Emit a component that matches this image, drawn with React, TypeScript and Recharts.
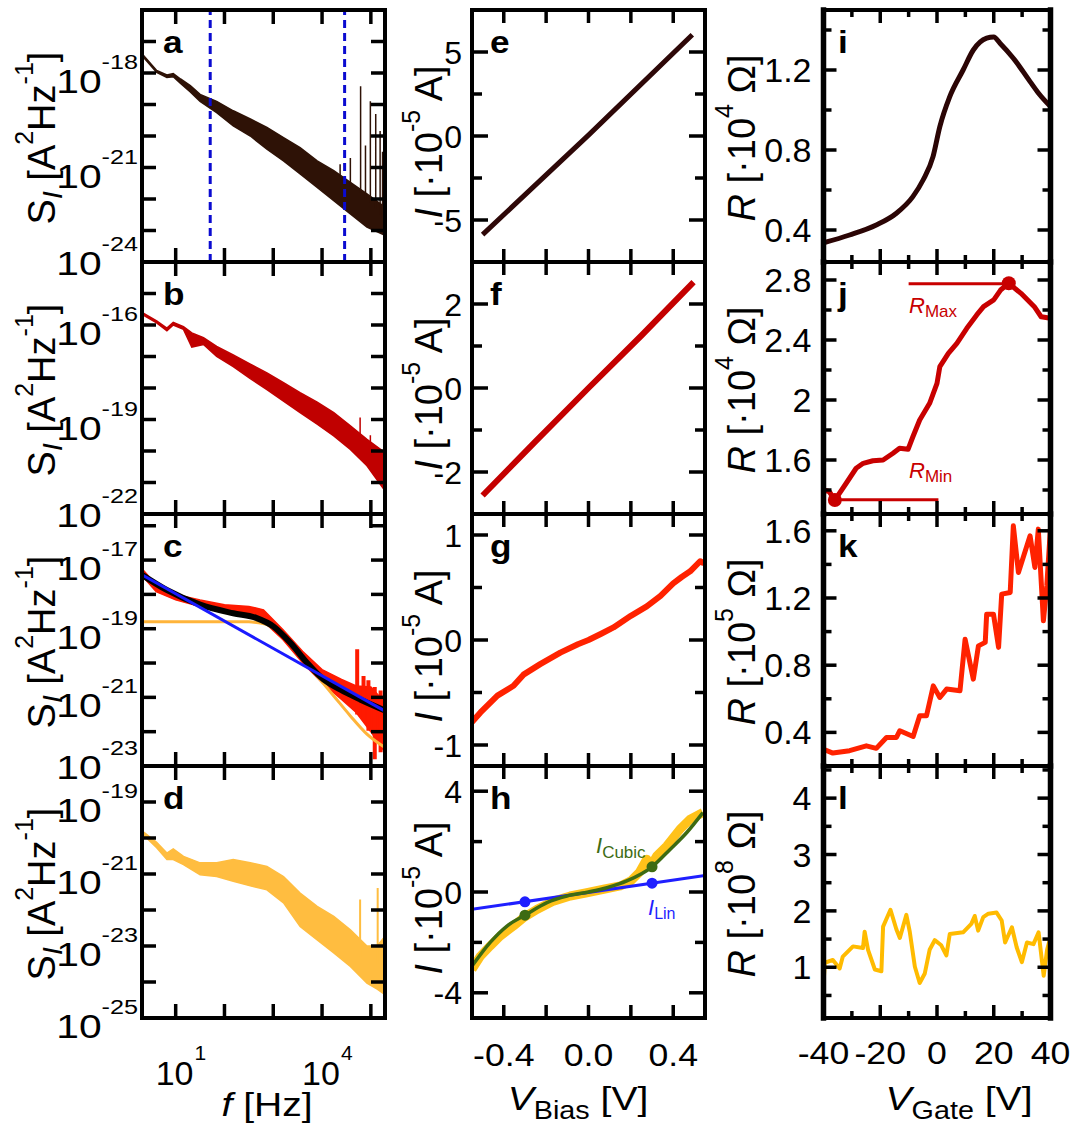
import React from "react";
import { ComposedChart, Line, Area, XAxis, YAxis, ReferenceLine } from "recharts";

const W = 1073;
const H = 1127;
const FONT = '"Liberation Sans", Arial, Helvetica, sans-serif';

// plot boxes (page px)
const COLS: [number, number][] = [[142, 385], [472, 705], [823.5, 1050.5]];
const ROWS: [number, number][] = [[10, 262], [262, 514], [514, 766], [766, 1018]];

// ---- column 1: noise spectra, read as powers of ten off the log axes
const aFreqExp = [0.31, 0.61, 0.82, 0.95, 1.1, 1.3, 1.5, 1.84, 2.18, 2.53, 2.87, 3.21, 3.55, 3.9, 4.24, 4.58, 4.92, 5.29];
const aLowExp = [-17.45, -17.98, -18.14, -18.12, -18.33, -18.6, -18.9, -19.26, -19.68, -20.0, -20.42, -20.79, -21.2, -21.63, -22.05, -22.47, -22.89, -23.15];
const aHighExp = [-17.39, -17.92, -18.06, -18.02, -18.19, -18.4, -18.68, -18.9, -19.2, -19.46, -19.73, -20.05, -20.37, -20.79, -21.1, -21.47, -21.84, -22.26];
const aSpikes = [[4.37, -21.3, -20.9], [4.58, -21.6, -20.7], [4.79, -21.8, -18.42], [4.89, -22.0, -20.3], [4.99, -22.1, -18.9], [5.1, -22.3, -19.3], [5.19, -22.5, -19.84], [5.24, -22.6, -20.5]];
const aMarkersHz = [51, 29000];

const bFreqExp = [0.31, 0.61, 0.82, 0.95, 1.16, 1.33, 1.57, 1.84, 2.18, 2.53, 2.87, 3.21, 3.55, 3.9, 4.24, 4.58, 4.92, 5.29];
const bLowExp = [-15.66, -15.93, -16.18, -16.0, -16.14, -16.7, -16.62, -17.0, -17.32, -17.7, -18.05, -18.42, -18.78, -19.15, -19.52, -19.95, -20.47, -21.26];
const bHighExp = [-15.6, -15.87, -16.1, -15.92, -16.05, -16.25, -16.4, -16.68, -16.95, -17.24, -17.52, -17.83, -18.15, -18.45, -18.78, -19.2, -19.63, -20.05];
const bSpikes = [[4.78, -19.6, -18.94], [4.99, -19.9, -19.5]];

const cFreqExp = [0.31, 0.6, 1.0, 1.5, 2.0, 2.5, 2.8, 3.2, 3.6, 4.0, 4.4, 4.7, 5.0, 5.29];
const cLowExp = [-17.45, -17.92, -18.16, -18.35, -18.5, -18.6, -18.79, -19.32, -19.99, -20.57, -21.06, -21.44, -22.0, -22.6];
const cHighExp = [-17.25, -17.72, -18.0, -18.16, -18.3, -18.35, -18.45, -19.03, -19.66, -20.19, -20.48, -20.67, -20.7, -21.15];
const cSpikes = [[4.72, -21.5, -19.6], [4.85, -21.64, -20.38], [4.95, -21.97, -20.5], [5.08, -22.8, -20.7], [5.2, -22.6, -20.8]];
const cSumFreqExp = [0.31, 0.815, 1.5, 2.18, 2.66, 3.0, 3.35, 3.69, 4.03, 4.37, 4.78, 5.29];
const cSumExp = [-17.43, -17.87, -18.3, -18.55, -18.69, -18.93, -19.41, -19.99, -20.48, -20.77, -21.06, -21.38];
const cPowerLawFreqExp = [0.31, 5.29];
const cPowerLawExp = [-17.43, -21.4];
const cLorentzFreqExp = [0.31, 2.5, 2.7, 2.87, 3.05, 3.21, 3.55, 3.9, 4.24, 4.58, 4.92, 5.29];
const cLorentzExp = [-18.8, -18.8, -18.83, -18.88, -19.02, -19.22, -19.8, -20.38, -20.96, -21.54, -22.07, -22.46];

const dFreqExp = [0.33, 0.61, 0.82, 0.95, 1.16, 1.5, 1.84, 2.18, 2.53, 2.87, 3.21, 3.55, 3.9, 4.24, 4.58, 4.92, 5.13, 5.29];
const dLowExp = [-19.9, -20.27, -20.6, -20.6, -20.74, -21.02, -21.07, -21.2, -21.33, -21.44, -21.8, -22.46, -22.83, -23.19, -23.57, -24.03, -24.2, -24.35];
const dHighExp = [-19.82, -20.12, -20.42, -20.3, -20.51, -20.69, -20.69, -20.6, -20.69, -20.79, -21.07, -21.53, -21.9, -22.18, -22.55, -23.0, -23.0, -22.73];
const dSpikes = [[4.78, -23.3, -21.71], [5.14, -23.5, -21.39]];

// ---- column 2: I-V curves
const eBias = [-0.5, 0, 0.49];
const eCurrent = [-5.87, 0.05, 6.03];
const fBias = [-0.5, -0.25, 0, 0.25, 0.496];
const fCurrent = [-2.56, -1.27, 0.0, 1.25, 2.52];
const gBias = [-0.55, -0.51, -0.43, -0.354, -0.307, -0.228, -0.133, -0.05, 0, 0.06, 0.118, 0.2, 0.275, 0.34, 0.4, 0.44, 0.48, 0.527, 0.545];
const gCurrent = [-0.78, -0.69, -0.53, -0.436, -0.33, -0.23, -0.12, -0.04, 0.0, 0.06, 0.12, 0.23, 0.32, 0.42, 0.54, 0.6, 0.654, 0.75, 0.73];
const hBias = [-0.55, -0.51, -0.464, -0.417, -0.354, -0.307, -0.243, -0.165, -0.086, -0.008, 0.071, 0.15, 0.2, 0.24, 0.275, 0.3, 0.322, 0.37, 0.432, 0.48, 0.54];
const hCurrent = [-3.07, -2.54, -2.14, -1.75, -1.35, -1.02, -0.69, -0.36, -0.16, -0.03, 0.11, 0.24, 0.44, 0.78, 1.3, 1.1, 1.43, 1.83, 2.49, 2.89, 3.15];
const hCubicBias = [-0.55, -0.464, -0.385, -0.3, -0.196, -0.102, 0, 0.087, 0.181, 0.3, 0.385, 0.464, 0.54];
const hCubicCurrent = [-2.94, -2.0, -1.35, -0.92, -0.42, -0.16, 0, 0.17, 0.44, 1.0, 1.69, 2.36, 3.15];
const hLinBias = [-0.55, 0.55];
const hLinCurrent = [-0.69, 0.66];
const hMarkBias = [-0.3, 0.3];
const hLinMarkCurrent = [-0.39, 0.35];
const hCubicMarkCurrent = [-0.92, 1.0];

// ---- column 3: R vs gate voltage
const iGate = [-40, -30.8, -21.4, -14.3, -8.5, -4.9, -1.4, 1, 4.5, 9.2, 12.8, 17.5, 20, 22.2, 26.9, 32.8, 36, 40];
const iRes = [0.336, 0.375, 0.425, 0.484, 0.567, 0.65, 0.767, 0.917, 1.067, 1.2, 1.3, 1.359, 1.365, 1.334, 1.259, 1.142, 1.08, 1.017];
const jGate = [-40, -38, -36, -32, -28.5, -26, -22.6, -19, -15.5, -13.2, -10.2, -8.5, -6.1, -2.6, 0, 1, 4, 7, 10.5, 14, 16.4, 20, 22.4, 25.3, 29.6, 34.3, 36.7, 40];
const jRes = [1.4, 1.39, 1.333, 1.445, 1.545, 1.578, 1.595, 1.6, 1.645, 1.678, 1.671, 1.755, 1.867, 1.978, 2.111, 2.222, 2.311, 2.378, 2.478, 2.567, 2.622, 2.667, 2.733, 2.778, 2.711, 2.622, 2.555, 2.545];
const jExtremaGate = [-36, 25.3];
const jExtremaRes = [1.333, 2.778];
const jMaxLineGate = [-10, 25.3];
const jMaxLineRes = [2.775, 2.775];
const jMinLineGate = [-36, 0.5];
const jMinLineRes = [1.335, 1.335];
const kGate = [-40, -36.7, -30.8, -24.9, -21.4, -17.8, -14.3, -13.1, -8.4, -6.1, -3.7, -1.3, 1, 3.4, 8.1, 9.9, 12.8, 14.6, 17, 17.5, 19.9, 21.7, 22.8, 25.8, 26.9, 28.7, 30.4, 32.8, 34.5, 35.7, 37.5, 38.7, 40];
const kRes = [0.3, 0.277, 0.291, 0.32, 0.305, 0.37, 0.37, 0.41, 0.376, 0.499, 0.499, 0.677, 0.608, 0.658, 0.648, 0.955, 0.717, 0.915, 0.936, 1.104, 1.104, 0.906, 1.223, 1.233, 1.63, 1.352, 1.442, 1.57, 1.382, 1.61, 1.064, 1.273, 1.62];
const lGate = [-40, -39.5, -36.7, -34.3, -33.2, -29.6, -26.1, -25.5, -24.3, -21.9, -19.6, -19, -16.4, -14.3, -13.1, -10.8, -9.6, -7.8, -6.1, -4.3, -2.6, -0.8, 1.5, 3.3, 4.5, 9.2, 12.1, 13.3, 14.5, 16.3, 18.1, 21, 22.8, 24, 26.4, 28.1, 29.9, 31.7, 34, 35.8, 37.6, 38.8, 40];
const lRes = [0.72, 1.08, 1.13, 0.98, 1.19, 1.37, 1.34, 1.63, 1.31, 0.96, 0.93, 1.72, 2.02, 1.67, 1.52, 1.93, 1.63, 1.01, 0.72, 0.89, 1.31, 1.48, 1.39, 1.21, 1.59, 1.62, 1.77, 1.91, 1.65, 1.89, 1.95, 1.97, 1.83, 1.44, 1.71, 1.35, 1.09, 1.44, 1.41, 1.62, 0.85, 1.31, 1.54];

const C = {
  a: "#2e1206", b: "#c00000", c: "#ff1a00", d: "#ffbd40",
  e: "#2e0808", f: "#c40000", g: "#ff2200", h: "#ffc21a", cubic: "#3d6b12", lin: "#1f1fff",
  i: "#2b0505", j: "#c80000", k: "#ff2200", l: "#ffbb00",
  blue: "#1a1aff", orange: "#ffb43a", marker: "#0b0bd0",
};

// tables for the library
const pts = (xs: number[], ys: number[]) => xs.map((x, i) => ({ x, y: ys[i] }));
const logPts = (xs: number[], ys: number[]) => xs.map((x, i) => ({ x: 10 ** x, y: 10 ** ys[i] }));
const band = (xs: number[], lo: number[], hi: number[]) => xs.map((x, i) => ({ x: 10 ** x, r: [10 ** lo[i], 10 ** hi[i]] }));
const spikes = (s: number[][]) =>
  s.flatMap(([f, a, b]) => [{ x: 10 ** f, y: 10 ** a }, { x: 10 ** f, y: 10 ** b }, { x: 10 ** f, y: null as number | null }]);

type Side = "left" | "right" | "top" | "bottom";
type Fmt = (v: number, x: number, y: number) => React.ReactNode;
type AxisCfg = { domain: [number, number]; ticks: number[]; log?: boolean; longs: number[]; labels: number[]; long: number; short: number; fmt: Fmt };

const near = (a: number, b: number) => Math.abs(a - b) <= Math.max(Math.abs(a), Math.abs(b)) * 1e-6;
const has = (arr: number[], v: number) => arr.some((m) => near(m, v));

function TX(props: any) {
  const { x, y, size, anchor = "start", sx = 1, children, ...rest } = props;
  return (
    <text transform={`translate(${x},${y}) scale(${sx},1)`} fontSize={size} textAnchor={anchor} fontFamily={FONT} fill="#000" {...rest}>
      {children}
    </text>
  );
}

// "10" with a raised exponent; labels sitting on a shared panel edge are lifted a little
const logYFmt = (edge: number | null): Fmt => (v, x, y) => {
  const lift = edge !== null && near(v, edge) ? 7 : 0;
  return (
    <TX x={x - 4} y={y + 20 - lift} size={34} anchor="end" sx={1.2}>
      10
      <tspan fontSize={21} dy={-24}>{String(Math.round(Math.log10(v)))}</tspan>
    </TX>
  );
};
const fmtLogX: Fmt = (v, x, y) => (
  <TX x={x - 20} y={y + 67} size={34}>
    10
    <tspan fontSize={21} dx={1} dy={-25}>{String(Math.round(Math.log10(v)))}</tspan>
  </TX>
);
const fmtIY: Fmt = (v, x, y) => <TX x={x - 10} y={y + 11.5} size={32} anchor="end">{String(v)}</TX>;
const fmtBias: Fmt = (v, x, y) => <TX x={x} y={y + 48} size={31} anchor="middle" sx={1.15}>{v.toFixed(1)}</TX>;
const fmtRY: Fmt = (v, x, y) => <TX x={x - 12} y={y + 12} size={34} anchor="end">{String(v)}</TX>;
const fmtGate: Fmt = (v, x, y) => <TX x={x} y={y + 46} size={31} anchor="middle" sx={1.15}>{String(v)}</TX>;

// the axis line sits at the plot edge; ticks point into the plot
function tickFor(side: Side, c: AxisCfg, showLabels: boolean) {
  return (p: any) => {
    const x = Number(p.x);
    const y = Number(p.y);
    const v = Number(p.payload?.value);
    const len = has(c.longs, v) ? c.long : c.short;
    const dx = side === "left" ? len : side === "right" ? -len : 0;
    const dy = side === "top" ? len : side === "bottom" ? -len : 0;
    return (
      <g>
        <line x1={x} y1={y} x2={x + dx} y2={y + dy} stroke="#000" strokeWidth={3.5} />
        {showLabels && has(c.labels, v) ? c.fmt(v, x, y) : null}
      </g>
    );
  };
}

const AX = 1; // axis band size (must be > 0 or the axis is not drawn)

function axes(xc: AxisCfg, yc: AxisCfg, xLabels: boolean, sideWidth = 4) {
  const base = { type: "number" as const, allowDataOverflow: true, tickLine: false, tickSize: 0, tickMargin: 0, interval: 0 as const };
  const line = { stroke: "#000", strokeWidth: 4, strokeLinecap: "square" as const };
  const vline = { ...line, strokeWidth: sideWidth };
  const xs = xc.log ? ("log" as const) : ("linear" as const);
  const ys = yc.log ? ("log" as const) : ("linear" as const);
  return [
    <XAxis key="xb" {...base} dataKey="x" domain={xc.domain} scale={xs} ticks={xc.ticks} height={AX} axisLine={line} tick={tickFor("bottom", xc, xLabels)} />,
    <XAxis key="xt" {...base} xAxisId="top" orientation="top" dataKey="x" domain={xc.domain} scale={xs} ticks={xc.ticks} height={AX} axisLine={line} tick={tickFor("top", xc, false)} />,
    <YAxis key="yl" {...base} domain={yc.domain} scale={ys} ticks={yc.ticks} width={AX} axisLine={vline} tick={tickFor("left", yc, true)} />,
    <YAxis key="yr" {...base} yAxisId="right" orientation="right" domain={yc.domain} scale={ys} ticks={yc.ticks} width={AX} axisLine={vline} tick={tickFor("right", yc, false)} />,
  ];
}

const freqAxis: AxisCfg = { domain: [2.04, 1.95e5], log: true, ticks: [10, 100, 1e3, 1e4, 1e5], longs: [10, 100, 1e3, 1e4, 1e5], labels: [10, 1e4], long: 14, short: 14, fmt: fmtLogX };
const logY = (domain: [number, number], ticks: number[], labels: number[], lifted: boolean): AxisCfg => ({
  domain, log: true, ticks, longs: ticks, labels, long: 14, short: 14, fmt: logYFmt(lifted ? domain[0] : null),
});
const aY = logY([1e-24, 1e-16], [1e-17, 1e-18, 1e-19, 1e-20, 1e-21, 1e-22, 1e-23, 1e-24], [1e-18, 1e-21, 1e-24], true);
const bY = logY([1e-22, 1e-14], [1e-15, 1e-16, 1e-17, 1e-18, 1e-19, 1e-20, 1e-21, 1e-22], [1e-16, 1e-19, 1e-22], true);
const cY = logY([1e-23, 2.2e-16], [1e-16, 1e-17, 1e-18, 1e-19, 1e-20, 1e-21, 1e-22, 1e-23], [1e-17, 1e-19, 1e-21, 1e-23], true);
const dY = logY([1e-25, 1e-18], [1e-19, 1e-20, 1e-21, 1e-22, 1e-23, 1e-24, 1e-25], [1e-19, 1e-21, 1e-23, 1e-25], false);

const biasAxis: AxisCfg = { domain: [-0.55, 0.55], ticks: [-0.4, -0.2, 0, 0.2, 0.4], longs: [-0.4, -0.2, 0, 0.2, 0.4], labels: [-0.4, 0, 0.4], long: 13, short: 13, fmt: fmtBias };
const iy = (domain: [number, number], ticks: number[], labels: number[]): AxisCfg => ({ domain, ticks, longs: labels, labels, long: 16, short: 10, fmt: fmtIY });
const eY = iy([-7.5, 7.5], [-5, -2.5, 0, 2.5, 5], [-5, 0, 5]);
const fY = iy([-3, 3], [-2, -1, 0, 1, 2], [-2, 0, 2]);
const gY = iy([-1.2, 1.2], [-1, -0.5, 0, 0.5, 1], [-1, 0, 1]);
const hY = iy([-5, 5], [-4, -2, 0, 2, 4], [-4, 0, 4]);

const gateAxis: AxisCfg = { domain: [-40, 40], ticks: [-40, -30, -20, -10, 0, 10, 20, 30, 40], longs: [-40, -20, 0, 20, 40], labels: [-40, -20, 0, 20, 40], long: 13, short: 7, fmt: fmtGate };
const ry = (domain: [number, number], ticks: number[], labels: number[]): AxisCfg => ({ domain, ticks, longs: labels, labels, long: 13, short: 8, fmt: fmtRY });
const iY = ry([0.24, 1.5], [0.4, 0.6, 0.8, 1, 1.2, 1.4], [0.4, 0.8, 1.2]);
const jY = ry([1.24, 2.92], [1.4, 1.6, 1.8, 2, 2.2, 2.4, 2.6, 2.8], [1.6, 2, 2.4, 2.8]);
const kY = ry([0.2, 1.7], [0.4, 0.6, 0.8, 1, 1.2, 1.4, 1.6], [0.4, 0.8, 1.2, 1.6]);
const lY = ry([0.1, 4.57], [0.5, 1, 1.5, 2, 2.5, 3, 3.5, 4, 4.5], [1, 2, 3, 4]);

function Chart({ col, row, children }: { col: number; row: number; children: React.ReactNode }) {
  const [l, r] = COLS[col];
  const [t, b] = ROWS[row];
  return (
    <div style={{ position: "absolute", left: 0, top: 0 }}>
      <ComposedChart width={W} height={H} margin={{ left: l - AX, right: W - r - AX, top: t - AX, bottom: H - b - AX }}>
        {children}
      </ComposedChart>
    </div>
  );
}

const noAnim = { isAnimationActive: false, dot: false, activeDot: false } as const;

function Overlay() {
  const cys = ROWS.map(([t, b]) => (t + b) / 2 + 2);
  const baselines = [53, 305, 557, 809];
  return (
    <svg width={W} height={H} style={{ position: "absolute", left: 0, top: 0 }} fontFamily={FONT}>
      {cys.map((cy, i) => (
        <g key={i}>
          <text transform={`translate(55,${cy}) rotate(-90)`} textAnchor="middle" fontSize={38}>
            S<tspan fontSize={28} fontStyle="italic" dy={7}>I</tspan>
            <tspan dy={-7}>{" [A"}</tspan>
            <tspan fontSize={25} dy={-22}>2</tspan>
            <tspan dy={22}>Hz</tspan>
            <tspan fontSize={25} dy={-22}>-1</tspan>
            <tspan dy={22}>]</tspan>
          </text>
          <text transform={`translate(442,${cy + 4}) rotate(-90)`} textAnchor="middle" fontSize={38}>
            <tspan fontStyle="italic">I</tspan>
            <tspan>{" [·10"}</tspan>
            <tspan fontSize={25} dy={-22}>-5</tspan>
            <tspan dy={22}>{" A]"}</tspan>
          </text>
          <text transform={`translate(755,${cy}) rotate(-90)`} textAnchor="middle" fontSize={38}>
            <tspan fontStyle="italic">R</tspan>
            <tspan>{" [·10"}</tspan>
            <tspan fontSize={25} dy={-22}>{["4", "4", "5", "8"][i]}</tspan>
            <tspan dy={22}>{" Ω]"}</tspan>
          </text>
          <TX x={163} y={baselines[i]} size={32} fontWeight="bold" sx={1.1}>{"abcd"[i]}</TX>
          <TX x={490} y={baselines[i]} size={32} fontWeight="bold" sx={1.1}>{"efgh"[i]}</TX>
          <TX x={838} y={baselines[i]} size={32} fontWeight="bold" sx={1.1}>{"ijkl"[i]}</TX>
        </g>
      ))}
      <TX x={267} y={1116} size={34} anchor="middle" sx={1.15}>
        <tspan fontStyle="italic">f</tspan>
        <tspan>{" [Hz]"}</tspan>
      </TX>
      <TX x={578} y={1110} size={34} anchor="middle" sx={1.15}>
        <tspan fontStyle="italic">V</tspan>
        <tspan fontSize={25} dy={9}>Bias</tspan>
        <tspan dy={-9}>{" [V]"}</tspan>
      </TX>
      <TX x={959} y={1110} size={34} anchor="middle" sx={1.15}>
        <tspan fontStyle="italic">V</tspan>
        <tspan fontSize={25} dy={9}>Gate</tspan>
        <tspan dy={-9}>{" [V]"}</tspan>
      </TX>
      <text x={596} y={853} fill={C.cubic} fontSize={22}>
        <tspan fontStyle="italic">I</tspan>
        <tspan fontSize={17} dy={5}>Cubic</tspan>
      </text>
      <text x={648} y={915} fill={C.lin} fontSize={22}>
        <tspan fontStyle="italic">I</tspan>
        <tspan fontSize={16} dy={4}>Lin</tspan>
      </text>
      <text x={909} y={313} fill={C.j} fontSize={22}>
        <tspan fontStyle="italic">R</tspan>
        <tspan fontSize={17} dy={4}>Max</tspan>
      </text>
      <text x={909} y={478} fill={C.j} fontSize={22}>
        <tspan fontStyle="italic">R</tspan>
        <tspan fontSize={17} dy={4}>Min</tspan>
      </text>
    </svg>
  );
}

export default function App() {
  return (
    <div style={{ position: "absolute", left: 0, top: 0, width: W, height: H, background: "#fff", fontFamily: FONT }}>
      {/* a */}
      <Chart col={0} row={0}>
        {axes(freqAxis, aY, false)}
        <Area data={band(aFreqExp, aLowExp, aHighExp)} dataKey="r" type="linear" stroke={C.a} strokeWidth={1.5} fill={C.a} fillOpacity={1} isAnimationActive={false} dot={false} activeDot={false} />
        <Line data={spikes(aSpikes)} dataKey="y" stroke={C.a} strokeWidth={1.5} {...noAnim} />
        {aMarkersHz.map((f) => (
          <ReferenceLine key={f} x={f} stroke={C.marker} strokeWidth={3} strokeDasharray="8 5" />
        ))}
      </Chart>
      {/* b */}
      <Chart col={0} row={1}>
        {axes(freqAxis, bY, false)}
        <Area data={band(bFreqExp, bLowExp, bHighExp)} dataKey="r" type="linear" stroke={C.b} strokeWidth={1.5} fill={C.b} fillOpacity={1} isAnimationActive={false} dot={false} activeDot={false} />
        <Line data={spikes(bSpikes)} dataKey="y" stroke={C.b} strokeWidth={1.5} {...noAnim} />
      </Chart>
      {/* c */}
      <Chart col={0} row={2}>
        {axes(freqAxis, cY, false)}
        <Area data={band(cFreqExp, cLowExp, cHighExp)} dataKey="r" type="linear" stroke={C.c} strokeWidth={1.5} fill={C.c} fillOpacity={1} isAnimationActive={false} dot={false} activeDot={false} />
        <Line data={spikes(cSpikes)} dataKey="y" stroke={C.c} strokeWidth={4} {...noAnim} />
        <Line data={logPts(cLorentzFreqExp, cLorentzExp)} dataKey="y" type="monotone" stroke={C.orange} strokeWidth={3} {...noAnim} />
        <Line data={logPts(cSumFreqExp, cSumExp)} dataKey="y" type="monotone" stroke="#000" strokeWidth={6} {...noAnim} />
        <Line data={logPts(cPowerLawFreqExp, cPowerLawExp)} dataKey="y" stroke={C.blue} strokeWidth={3} {...noAnim} />
      </Chart>
      {/* d */}
      <Chart col={0} row={3}>
        {axes(freqAxis, dY, true)}
        <Area data={band(dFreqExp, dLowExp, dHighExp)} dataKey="r" type="linear" stroke={C.d} strokeWidth={1.5} fill={C.d} fillOpacity={1} isAnimationActive={false} dot={false} activeDot={false} />
        <Line data={spikes(dSpikes)} dataKey="y" stroke={C.d} strokeWidth={2} {...noAnim} />
      </Chart>

      {/* e */}
      <Chart col={1} row={0}>
        {axes(biasAxis, eY, false)}
        <Line data={pts(eBias, eCurrent)} dataKey="y" stroke={C.e} strokeWidth={5} {...noAnim} />
      </Chart>
      {/* f */}
      <Chart col={1} row={1}>
        {axes(biasAxis, fY, false)}
        <Line data={pts(fBias, fCurrent)} dataKey="y" stroke={C.f} strokeWidth={6} {...noAnim} />
      </Chart>
      {/* g */}
      <Chart col={1} row={2}>
        {axes(biasAxis, gY, false)}
        <Line data={pts(gBias, gCurrent)} dataKey="y" stroke={C.g} strokeWidth={6} strokeLinejoin="round" {...noAnim} />
      </Chart>
      {/* h */}
      <Chart col={1} row={3}>
        {axes(biasAxis, hY, true)}
        <Line data={pts(hBias, hCurrent)} dataKey="y" stroke={C.h} strokeWidth={9} strokeLinejoin="round" {...noAnim} />
        <Line data={pts(hLinBias, hLinCurrent)} dataKey="y" stroke={C.lin} strokeWidth={3} {...noAnim} />
        <Line data={pts(hCubicBias, hCubicCurrent)} dataKey="y" type="monotone" stroke={C.cubic} strokeWidth={3.5} {...noAnim} />
        <Line data={pts(hMarkBias, hCubicMarkCurrent)} dataKey="y" stroke="none" isAnimationActive={false} activeDot={false} dot={{ r: 5.5, fill: C.cubic, stroke: "none" }} />
        <Line data={pts(hMarkBias, hLinMarkCurrent)} dataKey="y" stroke="none" isAnimationActive={false} activeDot={false} dot={{ r: 5.5, fill: C.lin, stroke: "none" }} />
      </Chart>

      {/* i */}
      <Chart col={2} row={0}>
        {axes(gateAxis, iY, false, 5.5)}
        <Line data={pts(iGate, iRes)} dataKey="y" type="monotone" stroke={C.i} strokeWidth={5} {...noAnim} />
      </Chart>
      {/* j */}
      <Chart col={2} row={1}>
        {axes(gateAxis, jY, false, 5.5)}
        <Line data={pts(jGate, jRes)} dataKey="y" stroke={C.j} strokeWidth={5} strokeLinejoin="round" {...noAnim} />
        <Line data={pts(jMaxLineGate, jMaxLineRes)} dataKey="y" stroke={C.j} strokeWidth={3} {...noAnim} />
        <Line data={pts(jMinLineGate, jMinLineRes)} dataKey="y" stroke={C.j} strokeWidth={3} {...noAnim} />
        <Line data={pts(jExtremaGate, jExtremaRes)} dataKey="y" stroke="none" isAnimationActive={false} activeDot={false} dot={{ r: 7, fill: C.j, stroke: "none" }} />
      </Chart>
      {/* k */}
      <Chart col={2} row={2}>
        {axes(gateAxis, kY, false, 5.5)}
        <Line data={pts(kGate, kRes)} dataKey="y" stroke={C.k} strokeWidth={5} strokeLinejoin="round" {...noAnim} />
      </Chart>
      {/* l */}
      <Chart col={2} row={3}>
        {axes(gateAxis, lY, true, 5.5)}
        <Line data={pts(lGate, lRes)} dataKey="y" stroke={C.l} strokeWidth={4} strokeLinejoin="round" {...noAnim} />
      </Chart>

      <Overlay />
    </div>
  );
}
